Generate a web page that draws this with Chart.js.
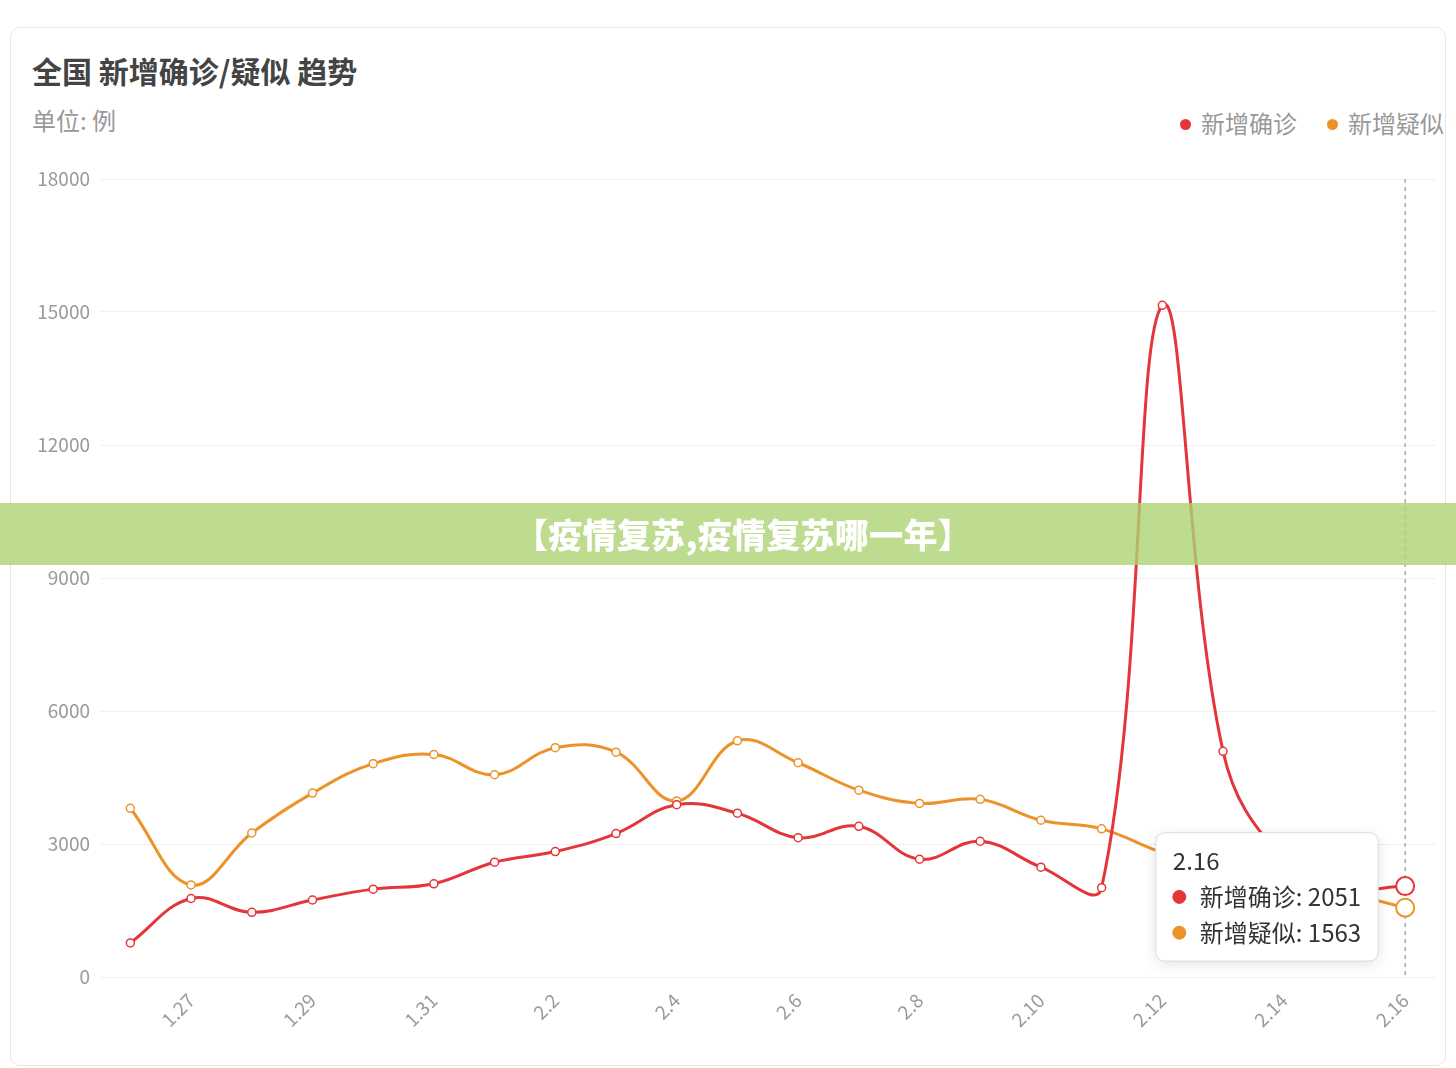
<!DOCTYPE html>
<html>
<head>
<meta charset="utf-8">
<script src="https://cdn.jsdelivr.net/npm/chart.js@4"></script>
<style>
  html, body { margin: 0; padding: 0; background: #fff; }
  body { width: 1456px; height: 1068px; position: relative; overflow: hidden;
         font-family: "Noto Sans CJK SC", "Noto Sans", sans-serif; }
  .card { position: absolute; left: 10px; top: 27px; width: 1436px; height: 1039px;
          box-sizing: border-box; border: 1px solid #e6e6e6; border-radius: 10px; }
  .title { position: absolute; left: 32px; top: 50px; line-height: 40px;
           font-size: 30px; font-weight: bold; color: #444; }
  .sub { position: absolute; left: 32px; top: 105px; line-height: 30px;
         font-size: 24px; color: #999; }
  .legend { position: absolute; right: 12px; top: 108px; line-height: 30px;
            font-size: 24px; color: #999; white-space: nowrap; }
  .legend span { display: inline-block; margin-left: 30px; }
  .legend i { display: inline-block; width: 11px; height: 11px; border-radius: 50%;
              margin-right: 10px; vertical-align: 3px; }
  #wrap { position: absolute; left: 10px; top: 150px; width: 1436px; height: 916px; }
  .banner { position: absolute; left: 0; top: 503px; width: 1456px; height: 62px;
            background: rgba(172, 211, 115, 0.8); color: #fff; text-align: center;
            font-size: 34px; font-weight: 900; line-height: 62px; padding-left: 30px;
            box-sizing: border-box; letter-spacing: 0.3px; }
</style>
</head>
<body>
<div class="card"></div>
<div class="title">全国 新增确诊/疑似 趋势</div>
<div class="sub">单位: 例</div>
<div class="legend" id="legend"></div>
<div id="wrap"><canvas id="chart"></canvas></div>
<div class="banner">【疫情复苏,疫情复苏哪一年】</div>

<script>
// 日期
const labels = ['1.26', '1.27', '1.28', '1.29', '1.30', '1.31', '2.1', '2.2', '2.3', '2.4', '2.5',
  '2.6', '2.7', '2.8', '2.9', '2.10', '2.11', '2.12', '2.13', '2.14', '2.15', '2.16'];
// 新增确诊
const confirmed = [769, 1771, 1459, 1737, 1982, 2102, 2590, 2829, 3235, 3887, 3694,
  3143, 3399, 2656, 3062, 2478, 2015, 15152, 5090, 2641, 2009, 2051];
// 新增疑似
const suspected = [3806, 2077, 3248, 4148, 4812, 5019, 4562, 5173, 5072, 3971, 5328,
  4833, 4214, 3916, 4008, 3536, 3342, 2807, 2450, 2277, 1918, 1563];
// 纵轴刻度
const yTicks = [0, 3000, 6000, 9000, 12000, 15000, 18000];

const seriesNames = ['新增确诊', '新增疑似'];
const red = '#e4353a';
const orange = '#ec9228';
const colors = [red, orange];

// 图例 (HTML)
document.getElementById('legend').innerHTML = seriesNames
  .map((n, i) => '<span><i style="background:' + colors[i] + '"></i>' + n + '</span>')
  .join('');

const FONT = '"Noto Sans CJK SC", "Noto Sans", sans-serif';

function lineSet(label, data, color) {
  return {
    label: label,
    data: data,
    borderColor: color,
    backgroundColor: color,
    borderWidth: 3,
    tension: 0.4,
    fill: false,
    pointRadius: 4,
    pointBorderWidth: 1.5,
    pointBackgroundColor: '#fff',
    pointBorderColor: color,
    pointHoverRadius: 9,
    pointHoverBorderWidth: 2,
    pointHoverBackgroundColor: '#fff',
    pointHoverBorderColor: color
  };
}

// 竖直虚线
const hoverLine = {
  id: 'hoverLine',
  beforeDatasetsDraw(chart) {
    const act = chart.getActiveElements();
    if (!act.length) return;
    const x = chart.scales.x.getPixelForValue(act[0].index);
    const ctx = chart.ctx;
    ctx.save();
    ctx.strokeStyle = '#aaa';
    ctx.lineWidth = 1.5;
    ctx.setLineDash([4, 4]);
    ctx.beginPath();
    ctx.moveTo(x, chart.chartArea.top);
    ctx.lineTo(x, chart.chartArea.bottom);
    ctx.stroke();
    ctx.restore();
  }
};

// 提示框阴影
const tipShadow = {
  id: 'tipShadow',
  beforeTooltipDraw(chart, args) {
    const t = args.tooltip;
    if (!t.opacity) return;
    const ctx = chart.ctx;
    ctx.save();
    ctx.shadowColor = 'rgba(0,0,0,0.12)';
    ctx.shadowBlur = 14;
    ctx.shadowOffsetY = 3;
    ctx.fillStyle = '#fff';
    ctx.beginPath();
    ctx.roundRect(t.x, t.y, t.width, t.height, 10);
    ctx.fill();
    ctx.restore();
  }
};

const chart = new Chart(document.getElementById('chart'), {
  type: 'line',
  data: {
    labels: labels,
    datasets: [lineSet(seriesNames[0], confirmed, red), lineSet(seriesNames[1], suspected, orange)]
  },
  options: {
    responsive: true,
    maintainAspectRatio: false,
    animation: false,
    events: [],
    layout: { padding: { top: 29, right: 8, bottom: 0, left: 0 } },
    interaction: { mode: 'index', intersect: false },
    plugins: {
      legend: { display: false },
      title: { display: false },
      tooltip: {
        xAlign: 'right',
        yAlign: 'center',
        caretSize: 0,
        caretPadding: 27,
        backgroundColor: '#fff',
        borderColor: '#dcdcdc',
        borderWidth: 1,
        cornerRadius: 10,
        padding: { top: 14, bottom: 14, left: 17, right: 17 },
        titleColor: '#333',
        bodyColor: '#333',
        titleFont: { family: FONT, size: 24, weight: 'normal' },
        bodyFont: { family: FONT, size: 24 },
        titleMarginBottom: 7,
        bodySpacing: 7,
        usePointStyle: true,
        boxWidth: 13,
        boxHeight: 13,
        boxPadding: 12,
        callbacks: {
          label: (c) => c.dataset.label + ': ' + c.parsed.y,
          labelColor: (c) => ({ borderColor: colors[c.datasetIndex], backgroundColor: colors[c.datasetIndex], borderWidth: 0 }),
          labelPointStyle: () => ({ pointStyle: 'circle', rotation: 0 })
        }
      }
    },
    scales: {
      x: {
        offset: true,
        grid: { display: false, drawTicks: false },
        border: { display: false },
        afterFit: (s) => { s.height = 89; s.paddingLeft = 0; s.paddingRight = 0; },
        ticks: {
          autoSkip: false,
          minRotation: 45,
          maxRotation: 45,
          padding: 12,
          color: '#9a9a9a',
          font: { family: FONT, size: 19 },
          callback: (v, i) => (i % 2 === 1 ? labels[i] : '')
        }
      },
      y: {
        min: 0,
        max: 18000,
        afterFit: (s) => { s.width = 90; },
        afterBuildTicks: (s) => { s.ticks = yTicks.map(v => ({ value: v })); },
        grid: { color: '#f0f0f0', lineWidth: 1, drawTicks: false },
        border: { display: false },
        ticks: {
          padding: 10,
          color: '#9a9a9a',
          font: { family: FONT, size: 19 },
          callback: (v) => String(v)
        }
      }
    }
  },
  plugins: [hoverLine, tipShadow]
});

// 默认悬停在最后一天
const last = labels.length - 1;
const act = [{ datasetIndex: 0, index: last }, { datasetIndex: 1, index: last }];
chart.setActiveElements(act);
chart.tooltip.setActiveElements(act, { x: chart.scales.x.getPixelForValue(last), y: 0 });
chart.update();
</script>
</body>
</html>
